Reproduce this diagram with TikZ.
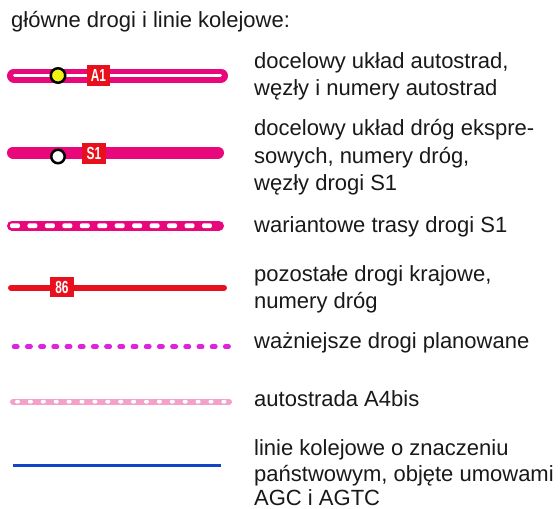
\documentclass[tikz,border=0pt]{standalone}
\usepackage{fontspec}
\setmainfont{Liberation Sans}
\definecolor{mag}{RGB}{232,8,124}
\definecolor{roadred}{RGB}{232,16,28}
\definecolor{planmag}{RGB}{222,34,222}
\definecolor{lpink}{RGB}{244,160,200}
\definecolor{rail}{RGB}{20,68,200}
\definecolor{txt}{RGB}{25,25,25}
\definecolor{jyellow}{RGB}{240,240,20}
\begin{document}
\begin{tikzpicture}[x=1pt,y=-1pt,
  lbl/.style={anchor=base west, inner sep=0, font=\fontsize{22}{26}\selectfont, text=txt},
  badge/.style={fill=roadred, minimum width=23pt, minimum height=21pt, inner sep=0, text=white, font=\fontsize{17.5}{17.5}\selectfont\bfseries},
  junction/.style={circle, draw=black, line width=2.5pt, inner sep=0}]
\useasboundingbox[fill=white] (0,0) rectangle (560,509);

\node[lbl] (title) at (11,27) {główne drogi i linie kolejowe:};

% 1 autostrady
\draw[mag, line width=14pt, line cap=round] (14,75.5) -- (221,75.5);
\draw[white, line width=3pt, line cap=round] (14.5,75.5) -- (220.5,75.5);
\node[junction, fill=jyellow, minimum size=14.5pt] (j1) at (58,75.5) {};
\node[badge] (a1) at (98.5,75.5) {\scalebox{0.68}[1]{A1}};
\node[lbl] (t1a) at (254,68.3) {docelowy układ autostrad,};
\node[lbl] (t1b) at (254,95) {węzły i numery autostrad};

% 2 drogi ekspresowe
\draw[mag, line width=12pt, line cap=round] (13,152.5) -- (218,152.5);
\node[junction, fill=white, minimum size=13.5pt] (j2) at (58,156.5) {};
\node[badge, minimum width=24pt] (s1) at (94,153.7) {\scalebox{0.68}[1]{S1}};
\node[lbl] (t2a) at (254,135) {docelowy układ dróg ekspre-};
\node[lbl] (t2b) at (254,163.3) {sowych, numery dróg,};
\node[lbl] (t2c) at (254,190) {węzły drogi S1};

% 3 warianty S1
\draw[mag, line width=10pt, line cap=round] (12,225.7) -- (219,225.7);
\foreach \i in {0,...,11}
  \fill[white, rounded corners=2pt] ({10+17.45*\i},223.3) rectangle +(10,4.8);
\node[lbl] (t3) at (254,232) {wariantowe trasy drogi S1};

% 4 drogi krajowe
\draw[roadred, line width=6pt, line cap=round] (11,287.8) -- (224,287.8);
\node[badge, minimum width=24pt, minimum height=20pt] (b86) at (62,287) {\scalebox{0.68}[1]{86}};
\node[lbl] (t4a) at (254,281.5) {pozostałe drogi krajowe,};
\node[lbl] (t4b) at (254,308) {numery dróg};

% 5 drogi planowane
\foreach \i in {0,...,16}
  \draw[planmag, line width=4.5pt, line cap=round] ({14+13.2*\i},346.7) -- +(3.4,0);
\node[lbl] (t5) at (254,348) {ważniejsze drogi planowane};

% 6 A4bis
\draw[lpink, line width=6pt, line cap=round] (13,401.7) -- (229,401.7);
\foreach \i in {0,...,16}
  \fill[white] ({17.5+12.9*\i},401.7) ellipse (2.6 and 2);
\node[lbl] (t6) at (254,406) {autostrada A4bis};

% 7 koleje
\draw[rail, line width=3.3pt] (13,465.7) -- (221,465.7);
\node[lbl] (t7a) at (254,455) {linie kolejowe o znaczeniu};
\node[lbl] (t7b) at (254,481.7) {państwowym, objęte umowami};
\node[lbl] (t7c) at (254,505.5) {AGC i AGTC};
\end{tikzpicture}
\end{document}
